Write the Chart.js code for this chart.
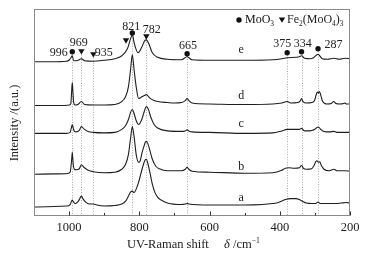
<!DOCTYPE html>
<html><head><meta charset="utf-8">
<script src="https://cdn.jsdelivr.net/npm/chart.js@4.4.0/dist/chart.umd.min.js"></script>
<style>html,body{margin:0;padding:0;background:#fff}#wrap{width:373px;height:260px;position:relative}</style>
</head><body><div id="wrap"><canvas id="c" width="373" height="260"></canvas></div>
<script>
// ---- data (wavenumber / relative intensity, spectra stacked a..e) ----
const xA=[1100,1008,997,993,991,988,983,976,971,965,960,951,941,931,921,900,870,850,839,831,825,820,815,809,802,796,789,784,780,776,770,763,756,748,738,720,680,669,664,659,600,500,450,420,404,394,384,369,354,344,334,324,309,299,291,284,274,259,240,225,210,200];
const yA=[9,10,11.5,15,16,14.5,12.5,14,16.5,20,17,13.5,12,12,11,10,10.5,12,15,20,24,25,23.5,27,34,42,51,56,57,53,44,32,24,19,16,13,11.5,12,12.5,12,11,11,11.5,12.5,13.5,15,16.5,17.5,17.5,16.5,14.5,13,12.5,12.5,14,12.5,12.5,12.5,12.5,13,13.5,13];
const xB=[1100,1008,997,994,992,991,990,988,985,980,971,965,958,946,931,900,870,850,839,831,825,820,815,809,802,798,792,786,783,780,776,770,763,753,743,720,680,669,664,659,650,600,500,420,394,384,374,359,344,338,333,324,309,302,297,294,290,286,282,274,259,246,237,225,215,200];
const yB=[42,42.5,44,52,60,64,60,51,47,46.5,47.5,51.5,49,46,44.5,43.5,44,47,52,62,78,90,80,62,54,55,64,71,74,75,73,66,57,50,47.5,45.5,45.5,47,49,47,45,44,43,43.5,46,48,48.5,48,48.5,51,48,47,47.5,51,55,55.5,54,54.5,51,47,45.5,47,45.5,45.5,45.5,45];
const xC=[1100,1008,997,994,991,988,985,980,971,965,958,946,931,900,870,850,839,831,825,820,815,809,802,793,786,780,774,768,758,748,720,680,669,664,659,650,600,500,420,394,379,364,344,338,332,324,309,299,294,291,287,282,274,259,246,235,220,200];
const yC=[83,83,84,88,92,88,85,84.5,86,90,87.5,85,84,83.5,84,87,91,97,104,107,103,96,92,97,105,110,107,100,92,88.5,85.5,85,85.5,86.5,85.5,84.5,84,83,83.5,85.5,87,87,87,88,86,85.5,86,87.5,89,89.5,88.5,86.5,85,84.5,85,84,84,84];
const xD=[1100,1020,999,995,993,991,989,987,983,975,965,956,931,900,870,850,839,831,825,820,815,809,802,794,786,780,774,768,758,748,720,700,680,669,664,659,650,600,500,420,394,379,369,349,342,338,334,324,309,301,297,293,290,287,283,279,272,264,254,246,240,230,218,215,210,200];
const yD=[111,111,111.5,113,124,134,124,114,111.5,112,115,112,111.5,111.5,112,115,120,130,147,162,147,130,118,119.5,121,122,120,118,116,115,114,113.5,114,116,118,116,113.5,112.5,112,112.5,113.5,115,113.5,114,115.5,118,115,113.5,114,116,121,124.5,123.5,125,121,116,113,112.5,113,115,113,112.5,113,113.5,112.5,112.5];
const xE=[1100,1050,1008,999,995,991,987,978,965,956,931,900,870,850,834,825,820,814,804,794,785,780,773,763,748,720,680,664,650,600,500,420,394,379,354,344,338,329,314,304,294,291,286,279,264,246,230,215,200];
const yE=[155,155,155.5,157,159,161,156,156,158,156,155.5,156.5,158,161,168,178,182,173,164,169,176,177,173,164,159.5,157.5,157,160,157,156.5,156.5,157,158,159,159.5,160,161,158.5,158,159,162,162.5,161,158,157.5,158.5,157.5,158.5,158];
const seriesNames=['a','b','c','d','e'];
const xTickValues=[1000,800,600,400,200];
const xMinorTickValues=[900,700,500,300];
const moo3Peaks=[991,820,664,379,338,291];
const fePeaks=[965,931,838,780];
const peakLines=[991,965,931,820,780,664,379,338,291];
const peakLabels=['996','969','935','821','782','665','375','334','287'];

const FONT='"Liberation Serif","Times New Roman",serif';
const series=[[xA,yA],[xB,yB],[xC,yC],[xD,yD],[xE,yE]];
const datasets=series.map(([xs,ys],i)=>({
  label:seriesNames[i],
  data:xs.map((x,k)=>({x:x,y:ys[k]})),
  borderColor:'#1e1e1e',borderWidth:1.1,pointRadius:0,fill:false,
  cubicInterpolationMode:'monotone'
}));

// annotation layout (marker value, label offsets in px)
const markerY={991:165,965:165,931:162,838:176,820:184,780:180,664:163,379:164,338:165,291:168};
const labelOff={
  '996':{dx:-4.5,dy:1,al:'right'},
  '969':{dx:-2.6,dy:-9,al:'center'},
  '935':{dx:1.5,dy:-2,al:'left'},
  '821':{dx:-1,dy:-6,al:'center'},
  '782':{dx:-3.5,dy:-7,al:'left'},
  '665':{dx:1,dy:-8,al:'center'},
  '375':{dx:-5,dy:-9,al:'center'},
  '334':{dx:1.3,dy:-8,al:'center'},
  '287':{dx:6.5,dy:-4,al:'left'}
};
const letterPos={a:[510,18],b:[510,49],c:[510,93],d:[510,121],e:[510,167]};

function fontFor(s,size){const sz=(s.sub||s.sup)?size*0.62:size;return (s.it?'italic ':'')+sz+'px '+FONT;}
function drawRich(ctx,segs,x,y,align,size){
  let total=0;const ws=segs.map(s=>{ctx.font=fontFor(s,size);const w=ctx.measureText(s.t).width;total+=w;return w;});
  let cx=align==='right'?x-total:align==='center'?x-total/2:x;
  ctx.textAlign='left';ctx.textBaseline='middle';
  segs.forEach((s,i)=>{ctx.font=fontFor(s,size);let dy=0;if(s.sub)dy=size*0.32;if(s.sup)dy=-size*0.36;ctx.fillText(s.t,cx,y+dy);cx+=ws[i];});
}
function dot(ctx,x,y){ctx.beginPath();ctx.arc(x,y,2.7,0,Math.PI*2);ctx.fill();}
function tri(ctx,x,y){ctx.beginPath();ctx.moveTo(x-3.2,y-2.6);ctx.lineTo(x+3.2,y-2.6);ctx.lineTo(x,y+2.8);ctx.closePath();ctx.fill();}

const decor={
  id:'decor',
  beforeDatasetsDraw(chart){
    const {ctx,chartArea:ca,scales:{x,y}}=chart;
    ctx.save();
    ctx.strokeStyle='#a8a8a8';ctx.lineWidth=1;ctx.setLineDash([1,1.6]);
    peakLines.forEach(p=>{
      const px=Math.round(x.getPixelForValue(p))+0.5;
      const top=y.getPixelForValue(markerY[p]);
      ctx.beginPath();ctx.moveTo(px,top);ctx.lineTo(px,ca.bottom);ctx.stroke();
    });
    ctx.restore();
  },
  afterDatasetsDraw(chart){
    const {ctx,chartArea:ca,scales:{x,y}}=chart;
    ctx.save();
    // frame
    ctx.strokeStyle='#8a8a8a';ctx.lineWidth=1;
    ctx.strokeRect(Math.round(ca.left)+0.5,Math.round(ca.top)+0.5,Math.round(ca.right-ca.left)-1,Math.round(ca.bottom-ca.top)-1);
    // inward ticks
    ctx.strokeStyle='#333';
    const b=Math.round(ca.bottom)-0.5;
    xTickValues.forEach(v=>{const px=Math.round(x.getPixelForValue(v))+0.5;ctx.beginPath();ctx.moveTo(px,b);ctx.lineTo(px,b-4);ctx.stroke();});
    xMinorTickValues.forEach(v=>{const px=Math.round(x.getPixelForValue(v))+0.5;ctx.beginPath();ctx.moveTo(px,b);ctx.lineTo(px,b-2.5);ctx.stroke();});
    // markers
    ctx.fillStyle='#111';
    moo3Peaks.forEach(p=>dot(ctx,x.getPixelForValue(p),y.getPixelForValue(markerY[p])));
    fePeaks.forEach(p=>tri(ctx,x.getPixelForValue(p),y.getPixelForValue(markerY[p])));
    // peak labels
    ctx.fillStyle='#222';
    peakLines.forEach((p,i)=>{
      const t=peakLabels[i],o=labelOff[t];
      const px=x.getPixelForValue(p),py=y.getPixelForValue(markerY[p]);
      drawRich(ctx,[{t:t}],px+o.dx,py+o.dy,o.al,12);
    });
    // series letters
    seriesNames.forEach(n=>{
      const [lx,ly]=letterPos[n];
      drawRich(ctx,[{t:n}],x.getPixelForValue(lx),y.getPixelForValue(ly),'center',12);
    });
    // legend
    ctx.fillStyle='#111';
    dot(ctx,ca.right-111,20);
    drawRich(ctx,[{t:'MoO'},{t:'3',sub:true}],ca.right-105,20,'left',12);
    tri(ctx,ca.right-68,20);
    ctx.fillStyle='#222';
    drawRich(ctx,[{t:'Fe'},{t:'2',sub:true},{t:'(MoO'},{t:'4',sub:true},{t:')'},{t:'3',sub:true}],ca.right-63,20,'left',12);
    // axis titles
    drawRich(ctx,[{t:'UV-Raman shift'}],127,245,'left',12.5);
    drawRich(ctx,[{t:'\u03b4',it:true},{t:' /cm'},{t:'\u22121',sup:true}],224,245,'left',12.5);
    ctx.translate(15,123);ctx.rotate(-Math.PI/2);
    drawRich(ctx,[{t:'Intensity /(a.u.)'}],0,0,'center',12.5);
    ctx.restore();
  }
};

new Chart(document.getElementById('c'),{
  type:'line',
  data:{datasets:datasets},
  options:{
    responsive:false,animation:false,devicePixelRatio:1,
    layout:{padding:{left:34,right:23,top:9,bottom:21}},
    plugins:{legend:{display:false},tooltip:{enabled:false},title:{display:false}},
    scales:{
      x:{type:'linear',reverse:true,min:200,max:1100,
        afterBuildTicks:s=>{s.ticks=xTickValues.map(v=>({value:v}));},
        grid:{display:false,drawTicks:false},border:{display:false},
        ticks:{padding:4,color:'#222',font:{family:FONT,size:12.5},callback:v=>String(v),maxRotation:0,autoSkip:false}
      },
      y:{type:'linear',display:false,min:0,max:208}
    }
  },
  plugins:[decor]
});
</script>
</body></html>
